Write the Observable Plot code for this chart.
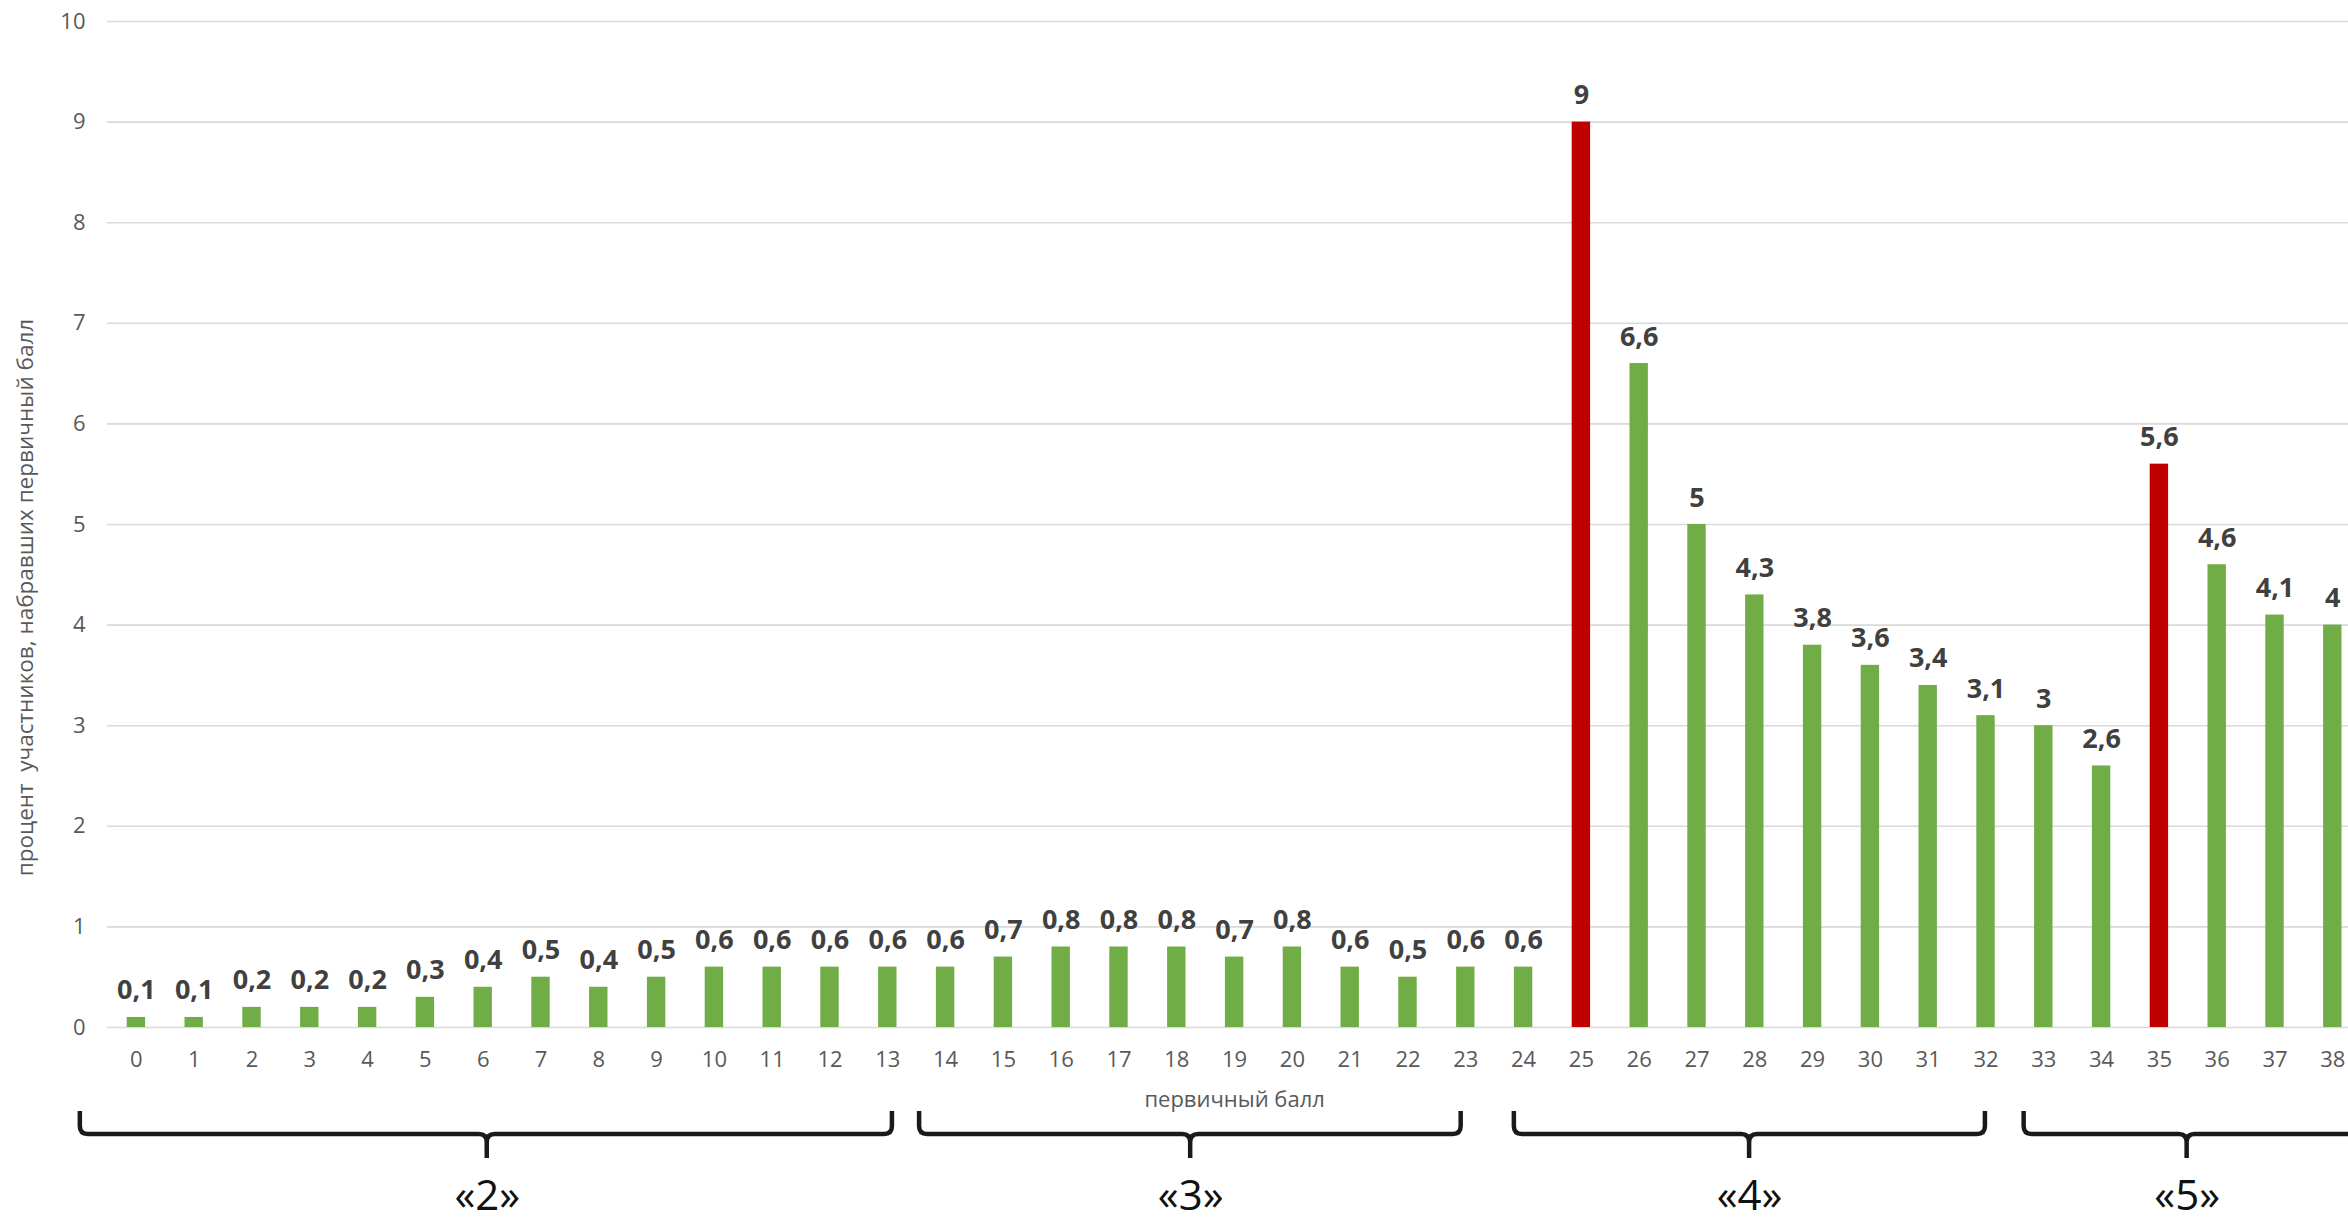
<!DOCTYPE html>
<html>
<head>
<meta charset="utf-8">
<script src="https://cdn.jsdelivr.net/npm/d3@7"></script>
<script src="https://cdn.jsdelivr.net/npm/@observablehq/plot@0.6"></script>
<style>
  html, body { margin: 0; padding: 0; background: #fff; }
  #chart { width: 2348px; height: 1220px; overflow: hidden; }
</style>
</head>
<body>
<div id="chart"></div>
<script>
// ---- data ----
const scores = [0,1,2,3,4,5,6,7,8,9,10,11,12,13,14,15,16,17,18,19,20,21,22,23,24,25,26,27,28,29,30,31,32,33,34,35,36,37,38];
const percents = [0.1,0.1,0.2,0.2,0.2,0.3,0.4,0.5,0.4,0.5,0.6,0.6,0.6,0.6,0.6,0.7,0.8,0.8,0.8,0.7,0.8,0.6,0.5,0.6,0.6,9,6.6,5,4.3,3.8,3.6,3.4,3.1,3,2.6,5.6,4.6,4.1,4];
const highlighted = [25, 35];
const yTicks = [0,1,2,3,4,5,6,7,8,9,10];
const gradeLabels = ["«2»", "«3»", "«4»", "«5»"];
const braceStart = [-0.97, 13.55, 23.84, 32.66];
const braceEnd = [13.08, 22.92, 31.99, 38.7];
const braceMid = [6.07, 18.24, 27.91, 35.48];
const yTitle = "процент  участников, набравших первичный балл";
const xTitle = "первичный балл";

const data = scores.map((s, i) => ({score: s, value: percents[i]}));
const grades = gradeLabels.map((g, i) => ({label: g, start: braceStart[i], end: braceEnd[i], mid: braceMid[i]}));

const green = "#70AD47", red = "#C00000";
const step = 57.8, marginLeft = 107;
const barHalf = 9.2 / step;
const xMid = (d3.min(scores) + d3.max(scores)) / 2;

function braces(index, scales, values, dimensions) {
  const x = scales.x, y0 = scales.y(0);
  const top = y0 + 84, line = y0 + 107, tip = y0 + 131, r = 8;
  const g = d3.create("svg:g");
  for (const b of grades) {
    const xs = x(b.start), xe = x(b.end), xm = x(b.mid);
    const p = `M${xs},${top} V${line - r} Q${xs},${line} ${xs + r},${line} H${xm - r} Q${xm},${line} ${xm},${line + r} V${tip}` +
              ` M${xm},${line + r} Q${xm},${line} ${xm + r},${line} H${xe - r} Q${xe},${line} ${xe},${line - r} V${top}`;
    g.append("path").attr("d", p).attr("fill", "none").attr("stroke", "#1a1a1a").attr("stroke-width", 4.5);
  }
  return g.node();
}

const chart = Plot.plot({
  width: 2348,
  height: 1220,
  marginLeft: marginLeft,
  marginRight: 0,
  marginTop: 21,
  marginBottom: 193,
  style: {fontFamily: "'Open Sans', sans-serif", background: "#fff", overflow: "visible"},
  x: {domain: [-0.5, 38.5], range: [marginLeft, marginLeft + scores.length * step]},
  y: {domain: [0, 10]},
  marks: [
    Plot.gridY({ticks: yTicks, stroke: "#d9d9d9", strokeOpacity: 1, strokeWidth: 1.6}),
    Plot.rectY(data, {x1: d => d.score - barHalf, x2: d => d.score + barHalf, y: "value",
      fill: d => highlighted.includes(d.score) ? red : green}),
    Plot.text(data, {x: "score", y: "value", text: d => String(d.value).replace(".", ","),
      lineAnchor: "bottom", dy: -18, fontSize: 27, fontWeight: "bold", fill: "#404040"}),
    Plot.axisY({ticks: yTicks, tickSize: 0, tickPadding: 22, fontSize: 22, color: "#595959", label: null}),
    Plot.axisX({ticks: scores, tickSize: 0, tickPadding: 24, fontSize: 22, color: "#595959", label: null, tickFormat: d => String(d)}),
    Plot.text([yTitle], {frameAnchor: "left", rotate: -90, dx: -82, dy: 73, fontSize: 22.5, fill: "#595959", textAnchor: "middle"}),
    Plot.text([xTitle], {x: () => xMid, frameAnchor: "bottom", lineAnchor: "middle", dy: 72, fontSize: 22, fill: "#595959"}),
    braces,
    Plot.text(grades, {x: "mid", frameAnchor: "bottom", text: "label", lineAnchor: "bottom", dy: 182, fontSize: 42, fill: "#111"})
  ]
});
document.getElementById("chart").appendChild(chart);
</script>
</body>
</html>
